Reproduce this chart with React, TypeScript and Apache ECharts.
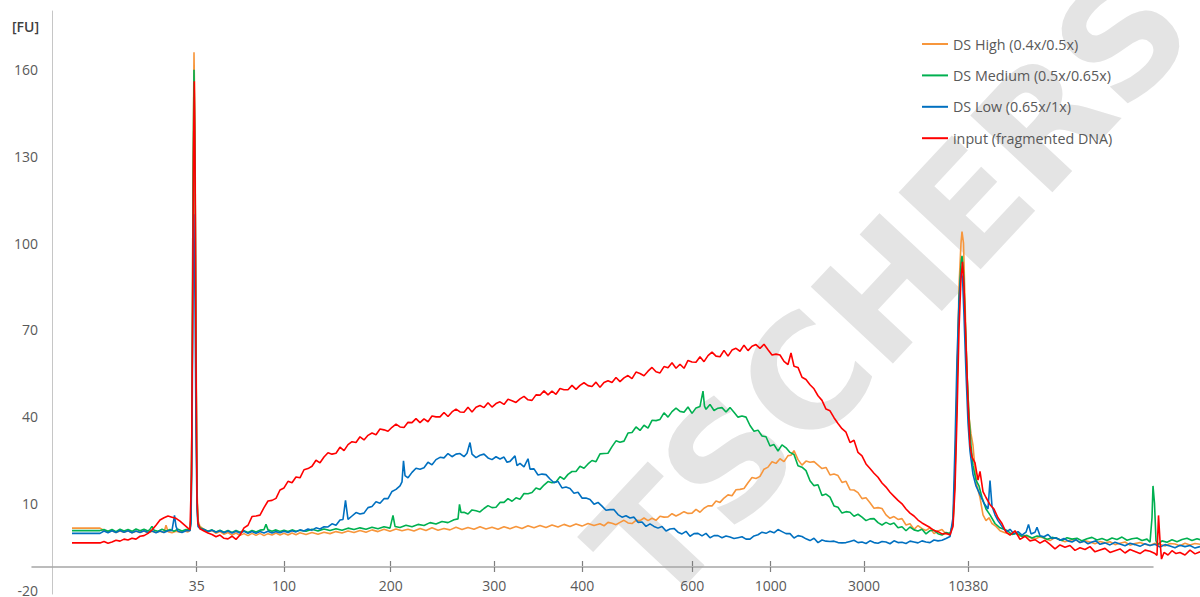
import React, { useEffect, useRef } from "react";
import * as echarts from "echarts";

// x = migration position (arbitrary time units), y = fluorescence [FU]
const ladderPos = [19.67, 28.4, 39.07, 49.43, 58.23, 69.23, 77.07, 86.4, 96.83];
const ladderLabels = ["35", "100", "200", "300", "400", "600", "1000", "3000", "10380"];
const yTicks = [-20, 10, 40, 70, 100, 130, 160];

const seriesNames = ["DS High (0.4x/0.5x)", "DS Medium (0.5x/0.65x)", "DS Low (0.65x/1x)", "input (fragmented DNA)"];
const seriesColors = ["#F7963C", "#00B050", "#0070C0", "#FF0000"];

const dsHigh: [number, number][] = [
  [7.2,1.4],[10.0,1.4],[10.4,0.6],[10.8,0.2],[11.2,0.5],[11.6,-0.1],[12.0,0.4],[12.4,0.0],[12.8,0.5],[13.2,-0.2],[13.6,0.3],[14.0,0.0],[14.4,0.4],[14.8,-0.2],[15.2,0.3],[15.6,0.0],[16.0,0.3],[16.4,-0.1],[16.6,2.4],[16.8,0.2],[17.2,-0.2],[17.6,0.3],[18.0,0.0],[18.4,0.4],[18.8,0.1],[19.0,0.6],[19.1,5],[19.2,40],[19.3,120],[19.4,166],[19.5,140],[19.6,70],[19.7,15],[19.8,4],[20.0,2],[20.4,1.0],[20.8,0.2],[21.2,0.6],[21.6,-0.4],[22.0,0.2],[22.4,-0.7],[22.8,-0.1],[23.2,-1.0],[23.6,-0.3],[24.0,-1.1],[24.4,-0.5],[24.8,-1.2],[25.2,-0.4],[25.6,-1.1],[26.0,-0.4],[26.4,-1.2],[26.8,-0.5],[27.2,-1.0],[27.6,-0.3],[28.0,-1.0],[28.4,-0.4],[28.8,-1.0],[29.2,-0.3],[29.6,-0.9],[30.0,-0.2],[30.6,-0.8],[31.2,-0.1],[31.8,-0.7],[32.4,0.0],[33.0,-0.5],[33.6,0.2],[34.2,-0.3],[34.8,0.4],[35.4,-0.1],[36.0,0.6],[36.6,0.0],[37.2,0.8],[37.8,0.2],[38.4,1.0],[39.0,0.3],[39.6,1.1],[40.2,0.5],[40.8,1.0],[41.4,0.4],[42.0,1.3],[42.6,0.6],[43.2,1.5],[43.8,0.7],[44.4,1.3],[45.0,0.8],[45.6,1.7],[46.2,0.9],[46.8,1.6],[47.4,1.0],[48.0,1.9],[48.6,1.1],[49.2,1.7],[49.8,1.0],[50.4,1.9],[51.0,1.2],[51.6,2.0],[52.2,1.3],[52.8,2.2],[53.4,1.5],[54.0,2.3],[54.6,1.6],[55.2,2.5],[55.8,1.8],[56.4,2.7],[57.0,2.0],[57.6,2.8],[58.2,2.1],[58.8,3.0],[59.4,2.3],
  [60.0,2.9],[60.4,2.2],[60.8,3.4],[61.2,3.1],[61.6,2.6],[62.0,3.4],[62.4,4.1],[62.8,3.2],[63.2,3.0],[63.6,4.1],[64.0,4.0],[64.4,4.9],[64.8,4.0],[65.2,4.8],[65.6,4.1],[66.0,5.5],[66.4,5.2],[66.8,5.3],[67.2,6.4],[67.6,5.6],[68.0,6.3],[68.4,7.1],[68.8,6.5],[69.2,6.6],[69.6,7.9],[70.0,6.9],[70.4,8.3],[70.8,9.1],[71.2,9.1],[71.6,10.8],[72.0,10.3],[72.4,11.8],[72.8,12.9],[73.2,12.6],[73.6,14.7],[74.0,14.8],[74.4,15.1],[74.8,17.1],[75.2,18.9],[75.6,18.6],[76.0,19.3],[76.4,21.8],[76.8,22.5],[77.2,24.4],[77.6,23.8],[78.0,25.4],[78.4,24.4],[78.8,26.5],[79.1,26.6],[79.4,28.2],[79.8,25.1],[80.2,23.2],[80.6,24.6],[81.0,24.2],[81.4,24.4],[81.8,23.2],[82.2,22.0],[82.6,22.4],[83.0,19.8],[83.4,20.1],[83.8,19.6],[84.2,17.2],[84.6,17.6],[85.0,14.7],[85.4,14.6],[85.8,13.7],[86.2,11.6],[86.6,11.9],[87.0,10.2],[87.4,8.3],[87.8,8.5],[88.2,8.2],[88.6,6.0],[89.0,4.8],[89.4,5.4],[89.8,4.4],[90.2,4.7],[90.6,2.5],[91.0,2.9],[91.4,1.0],[91.8,2.3],[92.2,1.2],[92.6,0.6],[93.0,1.5],[93.4,-0.5],[93.8,0.4],[94.2,0.9],[94.6,-0.6],[95.0,-0.5],
  [95.3,3],[95.5,20],[95.7,50],[95.9,85],[96.1,100],[96.2,104],[96.35,100],[96.5,80],[96.7,55],[96.9,40],[97.1,34],[97.3,30],[97.5,22],[97.7,16],[98.0,12],[98.3,6],[98.6,4],[98.9,5],[99.2,3],[99.6,2],[100.0,0.5],[100.5,-0.2],[101.0,-0.6],[101.5,-0.1],[102.0,-1.4],[102.5,-1.2],[103.0,-1.8],[103.5,-2.4],[104.0,-1.6],[104.5,-2.2],[105.0,-2.9],[105.5,-1.9],[106.0,-2.6],[106.5,-3.3],[107.0,-2.8],[107.5,-2.5],[108.0,-3.6],[108.5,-3.0],[109.0,-3.4],[109.5,-4.0],[110.0,-3.2],[110.5,-3.7],[111.0,-3.3],[111.5,-4.3],[112.0,-3.8],[112.5,-3.4],[113.0,-4.5],[113.5,-3.9],[114.0,-3.6],[114.5,-4.2],[115.0,-4.6],[115.5,-3.8],[116.0,-4.2],[116.5,-4.8],[117.0,-3.9],[117.5,-4.1],[118.0,-4.7],[118.5,-3.8],[119.0,-4.4],[119.5,-3.9],[120.0,-4.2]
];

const dsMedium: [number, number][] = [
  [7.2,0.55],[10.0,0.55],[10.4,0.9],[10.8,0.3],[11.2,0.9],[11.6,0.2],[12.0,1.0],[12.4,0.4],[12.8,0.9],[13.2,0.3],[13.6,1.1],[14.0,0.5],[14.4,1.0],[14.8,0.4],[15.0,1.0],[15.2,2.0],[15.4,0.7],[15.8,0.3],[16.2,1.0],[16.6,0.4],[17.0,0.9],[17.4,0.3],[17.8,1.0],[18.2,0.4],[18.6,0.9],[19.0,0.8],[19.1,5],[19.2,40],[19.3,120],[19.4,160],[19.5,130],[19.6,60],[19.7,12],[19.8,3],[20.0,1.5],[20.4,0.9],[20.8,0.3],[21.2,0.8],[21.6,0.1],[22.0,0.7],[22.4,0.0],[22.8,0.6],[23.2,-0.1],[23.6,0.6],[24.0,0.0],[24.4,0.5],[24.8,-0.1],[25.2,0.6],[25.6,0.1],[26.0,0.7],[26.4,0.9],[26.6,2.7],[26.8,0.8],[27.2,0.3],[27.6,0.8],[28.0,0.2],[28.4,0.7],[28.8,0.2],[29.2,0.8],[29.6,0.3],[30.0,0.7],[30.6,0.3],[31.2,1.0],[31.8,0.4],[32.4,1.1],[33.0,0.6],[33.6,1.2],[34.2,0.7],[34.8,1.4],[35.4,0.9],[36.0,1.5],[36.6,1.0],[37.2,1.7],[37.8,1.2],[38.4,1.9],[39.0,1.4],[39.3,5.8],[39.5,2.0],[40.0,1.6],[40.6,2.4],[41.2,1.9],[41.8,2.7],[42.4,2.3],[43.0,3.3],[43.6,2.8],[44.2,3.7],[44.8,3.3],[45.4,4.3],[45.8,4.6],[45.95,9.6],
  [46.1,6.8],[46.4,6.9],[46.8,6.3],[47.2,7.7],[47.6,7.4],[48.0,7.0],[48.4,8.2],[48.8,9.2],[49.2,8.5],[49.6,8.6],[50.0,10.3],[50.4,10.3],[50.8,11.6],[51.2,10.7],[51.6,11.9],[52.0,11.4],[52.4,13.4],[52.8,13.3],[53.2,13.7],[53.6,15.3],[54.0,14.8],[54.4,16.3],[54.8,17.5],[55.2,17.1],[55.6,17.4],[56.0,19.2],[56.4,18.3],[56.8,20.0],[57.2,21.0],[57.6,21.0],[58.0,22.8],[58.4,22.1],[58.8,23.6],[59.2,24.8],[59.6,24.4],[60.0,27.1],[60.4,27.2],[60.8,27.3],[61.2,29.6],[61.6,31.6],[62.0,31.1],[62.4,31.5],[62.8,34.3],[63.2,34.5],[63.6,36.4],[64.0,35.2],[64.4,37.0],[64.8,36.0],[65.2,38.7],[65.6,38.6],[66.0,39.0],[66.4,41.3],[66.8,39.8],[67.2,41.7],[67.6,42.9],[68.0,41.8],[68.4,41.5],[68.8,43.3],[69.2,41.1],[69.6,43.0],[70.0,43.5],[70.3,48.8],[70.45,43.6],[70.6,42.5],[71.0,44.2],[71.4,42.1],[71.8,42.9],[72.2,43.1],[72.6,41.6],[73.0,43.1],[73.4,41.5],[73.8,39.8],[74.2,40.2],[74.6,39.8],[75.0,36.9],[75.4,34.9],[75.8,35.3],[76.2,33.3],[76.6,33.0],[77.0,29.8],[77.4,30.3],[77.8,28.1],[78.2,30.2],[78.6,29.2],[79.0,27.6],[79.4,26.9],[79.8,23.0],[80.2,22.5],[80.6,21.3],[81.0,17.8],[81.4,16.1],[81.8,16.4],[82.2,12.7],[82.6,13.2],[83.0,12.1],[83.4,9.1],[83.8,8.6],[84.2,6.6],[84.6,7.1],[85.0,6.9],[85.4,5.5],[85.8,6.2],[86.2,5.2],[86.6,4.0],[87.0,4.6],[87.4,4.7],[87.8,3.3],[88.2,2.5],[88.6,3.4],[89.0,2.7],[89.4,3.2],[89.8,1.5],[90.2,1.9],[90.6,0.5],[91.0,1.8],[91.4,0.8],[91.8,0.4],[92.2,1.0],[92.6,-0.6],[93.0,0.5],[93.4,0.7],[93.8,-0.5],[94.2,-1.0],[94.6,-0.1],[95.0,-0.5],
  [95.3,3],[95.5,20],[95.7,50],[95.9,80],[96.1,93],[96.2,95.6],[96.35,90],[96.5,75],[96.7,55],[96.9,40],[97.1,30],[97.3,23],[97.6,18],[97.9,16],[98.2,12],[98.6,8],[99.0,6],[99.5,3],[100.0,1.5],[100.7,0.6],[101.2,-0.8],[101.7,-0.4],[102.2,-1.4],[102.7,-1.1],[103.2,-2.0],[103.7,-1.3],[104.2,-1.6],[104.7,-2.5],[105.2,-1.8],[105.7,-2.2],[106.2,-2.9],[106.7,-1.9],[107.2,-2.4],[107.7,-2.1],[108.2,-3.0],[108.7,-2.3],[109.2,-1.8],[109.7,-2.7],[110.2,-2.2],[110.7,-2.9],[111.2,-2.0],[111.7,-2.5],[112.2,-1.7],[112.7,-2.8],[113.2,-2.3],[113.7,-2.0],[114.2,-2.9],[114.7,-2.4],[115.0,-3.5],[115.2,5],[115.3,16],[115.45,10],[115.6,-3],[115.8,-4.2],[116.2,-3.0],[116.7,-3.5],[117.2,-2.6],[117.7,-3.3],[118.2,-2.5],[118.7,-2.1],[119.2,-2.9],[119.7,-2.3],[120.0,-2.6]
];

const dsLow: [number, number][] = [
  [7.2,-0.4],[10.0,-0.4],[10.4,0.4],[10.8,-0.2],[11.2,0.5],[11.6,-0.1],[12.0,0.6],[12.4,0.0],[12.8,0.5],[13.2,-0.2],[13.6,0.4],[14.0,-0.1],[14.4,0.5],[14.8,-0.1],[15.2,0.4],[15.6,-0.2],[16.0,0.4],[16.4,-0.1],[16.8,0.5],[17.2,0.6],[17.45,5.8],[17.6,2.0],[17.8,0.3],[18.2,-0.1],[18.6,0.5],[19.0,0.5],[19.1,3],[19.2,30],[19.3,90],[19.38,110],[19.5,80],[19.6,35],[19.7,8],[19.8,2],[20.0,1.2],[20.4,0.9],[20.8,0.2],[21.2,0.7],[21.6,0.0],[22.0,0.5],[22.4,-0.2],[22.8,0.4],[23.2,-0.3],[23.6,0.3],[24.0,-0.3],[24.4,0.3],[24.8,-0.4],[25.2,0.2],[25.6,-0.4],[26.0,0.2],[26.4,-0.3],[26.8,0.3],[27.2,-0.3],[27.6,0.2],[28.0,-0.2],[28.4,0.3],[28.8,-0.1],[29.2,0.5],[29.6,0.1],[30.0,0.8],[30.4,0.4],[30.8,1.1],[31.2,0.7],[31.6,1.5],[32.0,1.1],[32.4,1.9],[32.8,1.8],
  [33.2,2.9],[33.6,2.4],[34.0,4.2],[34.3,4.4],[34.55,11],[34.8,4.4],[35.2,5.6],[35.6,6.8],[36.0,6.3],[36.4,6.6],[36.8,8.5],[37.2,8.9],[37.6,10.5],[38.0,10.0],[38.4,11.6],[38.8,11.6],[39.2,14.1],[39.6,14.8],[40.0,16.0],[40.2,17.4],[40.35,24.7],[40.5,19.6],[40.8,18.8],[41.2,20.7],[41.6,22.1],[42.0,21.8],[42.4,22.3],[42.8,24.2],[43.2,23.3],[43.6,25.1],[44.0,25.9],[44.4,25.7],[44.8,27.2],[45.2,26.1],[45.6,27.0],[46.0,27.2],[46.4,26.1],[46.7,27.3],[47.0,31.0],[47.2,27.0],[47.6,25.8],[48.0,26.6],[48.4,27.0],[48.8,25.7],[49.2,25.1],[49.6,26.1],[50.0,25.3],[50.4,26.0],[50.7,24.2],[51.0,24.5],[51.5,26.4],[51.7,23.0],[52.0,23.8],[52.4,22.6],[52.8,25.4],[53.0,21.8],[53.4,21.9],[53.8,19.8],[54.2,20.1],[54.6,19.9],[55.0,18.4],[55.4,17.1],[55.8,17.6],[56.2,15.3],[56.6,15.6],[57.0,15.1],[57.4,13.5],[57.8,13.8],[58.2,11.8],[58.6,11.8],[59.0,11.3],[59.4,9.7],[59.8,10.3],[60.2,9.0],[60.6,7.6],[61.0,7.8],[61.4,7.8],[61.8,6.1],[62.2,5.2],[62.6,5.7],[63.0,4.9],[63.4,5.2],[63.8,3.4],[64.2,3.5],[64.6,2.0],[65.0,2.9],[65.4,2.0],[65.8,1.4],[66.2,2.0],[66.6,0.4],[67.0,1.1],[67.4,1.3],[67.8,0.0],[68.2,-0.6],[68.6,0.3],[69.0,-1.4],[69.4,-0.5],[69.8,-0.4],[70.2,-1.3],[70.6,-0.4],[71.0,-1.9],[71.4,-1.2],[71.8,-1.2],[72.2,-1.9],[72.6,-1.3],[73.0,-1.7],[73.4,-2.2],[73.8,-1.9],[74.2,-1.6],[74.6,-2.4],[75.0,-2.4],[75.4,-1.3],[75.8,-0.9],[76.2,0.0],[76.6,-0.4],[77.0,0.3],[77.4,-0.2],[77.8,0.9],[78.2,0.2],[78.6,-0.5],[79.0,-0.5],[79.4,-2.0],[79.8,-1.2],[80.2,-1.5],[80.6,-2.3],[81.0,-2.9],[81.4,-2.1],[81.8,-3.6],[82.2,-2.7],[82.6,-3.1],[83.0,-3.2],[83.4,-3.1],[83.8,-3.6],[84.2,-3.7],[84.6,-3.6],[85.0,-3.2],[85.4,-2.8],[85.8,-3.6],[86.2,-3.4],[86.6,-3.9],[87.0,-3.0],[87.4,-3.6],[87.8,-3.8],[88.2,-3.2],[88.6,-3.4],[89.0,-4.0],[89.4,-3.0],[89.8,-3.6],[90.2,-3.5],[90.6,-3.9],[91.0,-3.1],[91.4,-3.4],[91.8,-3.7],[92.2,-3.0],[92.6,-3.4],[93.0,-3.6],[93.4,-2.7],[93.8,-3.0],[94.2,-2.8],[94.6,-2.2],[95.0,-1.5],
  [95.3,5],[95.5,30],[95.7,60],[95.9,80],[96.1,90],[96.25,88],[96.4,75],[96.6,55],[96.8,38],[97.0,28],[97.3,20],[97.6,16],[98.0,13],[98.4,10],[98.8,8],[99.0,17.9],[99.2,9],[99.5,6],[99.8,4],[100.3,1.5],[100.7,0.2],[101.0,1.0],[101.4,-0.6],[101.8,0.2],[102.2,-1.0],[102.6,0.0],[102.85,2.7],[103.1,-0.6],[103.5,0.0],[103.7,1.7],[104.0,-1.2],[104.4,-1.6],[104.8,-0.8],[105.2,-2.2],[105.6,-1.9],[106.0,-2.8],[106.4,-2.2],[106.8,-3.0],[107.2,-3.4],[107.6,-2.6],[108.0,-3.6],[108.4,-3.1],[108.8,-4.0],[109.2,-3.4],[109.6,-3.0],[110.0,-4.2],[110.5,-3.7],[111.0,-4.4],[111.5,-3.5],[112.0,-4.1],[112.5,-4.7],[113.0,-3.8],[113.5,-4.3],[114.0,-4.9],[114.5,-4.0],[115.0,-4.6],[115.5,-4.2],[116.0,-5.1],[116.5,-4.3],[117.0,-4.8],[117.5,-5.4],[118.0,-4.5],[118.5,-5.0],[119.0,-4.6],[119.5,-5.5],[120.0,-5.0]
];

const inputDNA: [number, number][] = [
  [7.2,-3.7],[10.0,-3.7],[10.4,-3.2],[10.8,-3.8],[11.2,-3.4],[11.6,-2.8],[12.0,-3.1],[12.4,-2.4],[12.8,-2.7],[13.2,-2.1],[13.6,-2.4],[14.0,-1.4],[14.4,-1.2],[14.8,-0.4],[15.2,0.8],[15.6,2.4],[16.0,4.2],[16.4,5.0],[16.8,5.6],[17.2,5.2],[17.6,4.8],[18.0,3.8],[18.4,2.6],[18.8,1.4],[19.0,0.9],[19.15,20],[19.25,70],[19.35,130],[19.43,156],[19.52,120],[19.6,60],[19.7,12],[19.8,3],[20.0,1.2],[20.4,0.4],[20.8,-0.3],[21.2,-0.8],[21.6,-1.6],[22.0,-1.0],[22.4,-2.1],[22.8,-2.3],[23.2,-1.4],[23.6,-2.5],[24.0,-1.0],
  [24.4,1.5],[24.8,2.4],[25.2,5.4],[25.6,5.6],[26.0,5.9],[26.4,8.5],[26.8,10.8],[27.2,11.0],[27.6,11.7],[28.0,14.6],[28.4,15.3],[28.8,17.6],[29.2,17.1],[29.6,19.1],[30.0,18.8],[30.4,21.6],[30.8,22.0],[31.2,22.8],[31.6,24.9],[32.0,24.0],[32.4,26.0],[32.8,27.5],[33.2,27.0],[33.6,27.3],[34.0,29.4],[34.4,28.2],[34.8,30.3],[35.2,31.3],[35.6,31.0],[36.0,33.0],[36.4,31.9],[36.8,33.5],[37.2,34.3],[37.6,33.7],[38.0,35.7],[38.4,35.4],[38.8,34.9],[39.2,36.3],[39.6,37.4],[40.0,36.4],[40.4,36.2],[40.8,38.0],[41.2,37.9],[41.6,39.3],[42.0,37.9],[42.4,39.2],[42.8,38.2],[43.2,40.2],[43.6,39.9],[44.0,39.9],[44.4,41.4],[44.8,40.0],[45.2,41.6],[45.6,42.6],[46.0,41.6],[46.4,41.5],[46.8,43.2],[47.2,41.6],[47.6,43.2],[48.0,43.8],[48.4,43.1],[48.8,44.8],[49.2,43.3],[49.6,44.5],[50.0,45.1],[50.4,44.2],[50.8,46.0],[51.2,45.5],[51.6,44.9],[52.0,46.1],[52.4,47.0],[52.8,45.8],[53.2,45.6],[53.6,47.5],[54.0,47.4],[54.4,48.9],[54.8,47.5],[55.2,48.8],[55.6,47.7],[56.0,49.7],[56.4,49.3],[56.8,49.3],[57.2,50.8],[57.6,49.4],[58.0,50.8],[58.4,51.7],[58.8,50.7],[59.2,50.4],[59.6,51.9],[60.0,50.1],[60.4,51.8],[60.8,52.4],[61.2,51.8],[61.6,53.5],[62.0,52.1],[62.4,53.4],[62.8,54.2],[63.2,53.1],[63.6,55.4],[64.0,54.9],[64.4,54.1],[64.8,55.7],[65.2,57.0],[65.6,55.5],[66.0,55.1],[66.4,57.3],[66.8,56.9],[67.2,58.6],[67.6,56.7],[68.0,58.1],[68.4,56.7],[68.8,59.4],[69.2,58.9],[69.6,58.8],[70.0,60.7],[70.4,59.0],[70.8,61.1],[71.2,62.3],[71.6,60.9],[72.0,60.7],[72.4,62.9],[72.8,60.9],[73.2,63.0],[73.6,63.6],[74.0,62.6],[74.4,64.7],[74.8,62.8],[75.2,64.3],[75.6,64.9],[76.0,63.6],[76.4,65.0],[76.8,63.1],[77.2,61.3],[77.6,61.6],[78.0,61.3],[78.4,59.1],[78.8,58.0],[79.1,62.0],[79.4,57.4],[79.8,57.0],[80.2,53.6],[80.6,52.8],[81.0,51.0],[81.4,49.6],[81.8,47.2],[82.2,45.6],[82.6,42.6],[83.0,42.0],[83.4,39.6],[83.8,37.6],[84.2,35.8],[84.6,34.6],[85.0,31.0],[85.4,31.8],[85.8,27.6],[86.2,26.4],[86.6,23.6],[87.0,22.0],[87.4,20.4],[87.8,19.0],[88.2,17.0],[88.6,15.6],[89.0,13.8],[89.4,12.4],[89.8,11.0],[90.2,9.8],[90.6,8.0],[91.0,6.6],[91.4,5.6],[91.8,4.2],[92.2,3.2],[92.6,2.4],[93.0,1.6],[93.4,0.6],[93.8,0.2],[94.2,-0.6],[94.6,-0.4],[95.0,-1.0],
  [95.3,2],[95.5,15],[95.7,40],[95.9,70],[96.1,88],[96.25,93.5],[96.4,85],[96.6,65],[96.8,45],[97.0,30],[97.2,26],[97.5,24],[97.8,18],[98.0,21],[98.3,14],[98.6,12],[99.0,9.5],[99.4,8],[99.8,5],[100.2,3],[100.6,0],[101.0,-1],[101.5,0.5],[102.0,-2.5],[102.5,-1.4],[103.0,-3.0],[103.5,-2.6],[104.0,-3.8],[104.5,-2.8],[105.0,-4.2],[105.5,-5.8],[106.0,-4.4],[106.5,-5.2],[107.0,-4.6],[107.5,-6.3],[108.0,-5.4],[108.5,-6.0],[109.0,-5.0],[109.5,-6.8],[110.0,-6.2],[110.5,-5.6],[111.0,-7.0],[111.5,-6.4],[112.0,-5.8],[112.5,-7.2],[113.0,-6.0],[113.5,-6.7],[114.0,-7.4],[114.5,-6.2],[115.0,-6.6],[115.5,-7.4],[115.7,-8],[115.85,5.8],[116.0,-3],[116.15,-9.3],[116.4,-7],[116.8,-7.9],[117.2,-6.4],[117.6,-7.4],[118.0,-7.0],[118.5,-7.9],[119.0,-6.2],[119.5,-7.5],[120.0,-6.8]
];

const seriesData = [dsHigh, dsMedium, dsLow, inputDNA];

const FONT = '"Open Sans", "Liberation Sans", sans-serif';
const TEXT = "#595959";

export default function App() {
  const ref = useRef<HTMLDivElement>(null);
  useEffect(() => {
    if (!ref.current) return;
    const chart = echarts.init(ref.current, undefined, { renderer: "svg" });
    const labelFor = (v: number) => {
      let best = 0;
      for (let i = 0; i < ladderPos.length; i++) {
        if (Math.abs(ladderPos[i] - v) < Math.abs(ladderPos[best] - v)) best = i;
      }
      return ladderLabels[best];
    };
    chart.setOption({
      animation: false,
      backgroundColor: "#ffffff",
      textStyle: { fontFamily: FONT },
      graphic: [
        {
          type: "text",
          x: 890,
          y: 288,
          rotation: (47 * Math.PI) / 180,
          z: 0,
          silent: true,
          style: {
            text: "TSCHERS",
            font: 'bold 154px "DejaVu Sans", sans-serif',
            fill: "#e4e4e4",
            align: "center",
            verticalAlign: "middle",
          },
        },
        {
          type: "text",
          left: 12,
          top: 19,
          style: { text: "[FU]", font: '600 14px "Open Sans", sans-serif', fill: "#404040" },
        },
      ],
      legend: {
        orient: "vertical",
        left: 917,
        top: 29,
        itemWidth: 26,
        itemHeight: 2,
        itemGap: 11.4,
        icon: "rect",
        data: seriesNames,
        textStyle: { color: TEXT, fontSize: 14.3, fontFamily: FONT, lineHeight: 20 },
      },
      grid: [
        { left: 52, right: 0, top: 11, bottom: 0 },
        { left: 32, right: 47, top: 566, height: 1 },
      ],
      xAxis: [
        { gridIndex: 0, type: "value", min: 5.2, max: 120, show: false },
        {
          gridIndex: 1,
          type: "value",
          min: 3.2,
          max: 115.3,
          position: "bottom",
          axisLine: { show: true, lineStyle: { color: "#a6a6a6", width: 1.5 } },
          axisTick: { show: true, length: 5, customValues: ladderPos, lineStyle: { color: "#7f7f7f", width: 1.2 } },
          axisLabel: {
            show: true,
            customValues: ladderPos,
            formatter: (v: number) => labelFor(v),
            color: TEXT,
            fontSize: 14,
            fontFamily: FONT,
            margin: 11,
          },
          splitLine: { show: false },
        },
        {
          gridIndex: 1,
          type: "value",
          min: 3.2,
          max: 115.3,
          position: "top",
          axisLine: { show: false },
          axisTick: { show: true, length: 5, customValues: ladderPos, lineStyle: { color: "#7f7f7f", width: 1.2 } },
          axisLabel: { show: false },
          splitLine: { show: false },
        },
      ],
      yAxis: [
        {
          gridIndex: 0,
          type: "value",
          min: -21.4,
          max: 180.3,
          axisLine: { show: true, lineStyle: { color: "#c6c6c6", width: 1 } },
          axisTick: { show: false },
          splitLine: { show: false },
          axisLabel: {
            customValues: yTicks,
            color: TEXT,
            fontSize: 14,
            fontFamily: FONT,
            margin: 14,
          },
        },
        { gridIndex: 1, type: "value", show: false },
      ],
      series: seriesData.map((d, i) => ({
        name: seriesNames[i],
        type: "line",
        xAxisIndex: 0,
        yAxisIndex: 0,
        data: d,
        showSymbol: false,
        symbol: "none",
        color: seriesColors[i],
        lineStyle: { color: seriesColors[i], width: 1.6 },
        z: 2 + i,
      })),
    });
    return () => chart.dispose();
  }, []);
  return (
    <div
      ref={ref}
      style={{ position: "fixed", left: 0, top: 0, width: 1200, height: 597, background: "#fff" }}
    />
  );
}
